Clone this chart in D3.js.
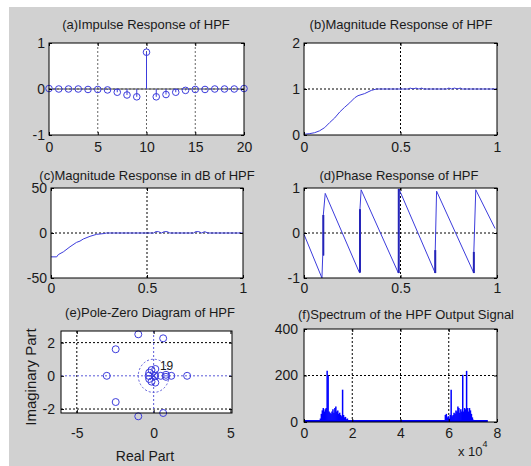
<!DOCTYPE html>
<html>
<head>
<meta charset="utf-8">
<script src="https://cdn.jsdelivr.net/npm/d3@7/dist/d3.min.js"></script>
<style>
  body { margin: 0; background: #fff; }
  text { font-family: "Liberation Sans", Arial, sans-serif; fill: #1a1a1a; }
</style>
</head>
<body>
<div id="fig"></div>
<script>
// ---- data ----

// (a) impulse response h[n]
var impulseN = [0, 1, 2, 3, 4, 5, 6, 7, 8, 9, 10, 11, 12, 13, 14, 15, 16, 17, 18, 19, 20];
var impulseH = [0.01, 0, 0, 0, -0.01, -0.01, -0.02, -0.07, -0.13, -0.17, 0.8,
                -0.17, -0.12, -0.07, -0.03, -0.01, -0.01, 0, 0, 0, 0.01];

// (b) magnitude response (normalised frequency)
var magFreq = [0, 0.03, 0.055, 0.08, 0.107, 0.133, 0.159, 0.185, 0.21, 0.237, 0.263, 0.28, 0.314, 0.349, 0.375,
               0.54, 0.55, 0.565, 0.58, 0.595, 0.61, 0.62, 0.74, 0.75, 0.765, 0.78, 0.795, 0.81, 0.82, 1];
var magVal  = [0.015, 0.03, 0.05, 0.09, 0.16, 0.27, 0.37, 0.5, 0.6, 0.7, 0.81, 0.855, 0.9, 0.97, 1.0,
               1.0, 1.02, 1.0, 1.02, 1.0, 1.02, 1.0, 1.0, 1.02, 1.0, 1.02, 1.0, 1.02, 1.0, 1.0];

// (c) magnitude response in dB
var dbFreq = [0, 0.03, 0.038, 0.064, 0.099, 0.133, 0.151, 0.168, 0.203, 0.237, 0.272, 0.29,
              0.535, 0.545, 0.56, 0.575, 0.59, 0.605, 0.619, 0.743, 0.753, 0.77, 0.785, 0.8, 0.818, 1];
var dbVal  = [-26.5, -26.5, -24, -21, -15.3, -10.4, -9, -6.7, -3.7, -1.5, -0.7, 0,
              0, 1.5, 1.5, 0, 1.5, 1.5, 0, 0, 1.5, 1.5, 0, 1.5, 0, 0];

// (d) phase response (units of pi)
var phaseFreq = [0, 0.093, 0.097, 0.1, 0.1, 0.11, 0.287, 0.29, 0.29, 0.296, 0.489, 0.492,
                 0.68, 0.68, 0.687, 0.88, 0.88, 0.89, 0.99];
var phaseVal  = [-0.03, -1.0, -0.5, -0.5, 0.4, 0.88, -0.88, -0.88, 0.53, 0.96, -0.89, 0.98,
                 -0.89, -0.38, 0.93, -0.89, -0.42, 0.96, 0.1];
var phaseJumps = [[0.1, -0.5, 0.4], [0.29, -0.88, 0.53], [0.491, -0.89, 0.98], [0.68, -0.89, -0.38], [0.88, -0.89, -0.42]];

// (e) pole-zero diagram
var zeroRe = [-1.0, -1.0, 0.62, 0.62, -2.47, -2.47, -3.05, 2.18,
              -0.14, -0.14, 0.11, 0.11, -0.29, -0.29, -0.33, 0.46,
              0.8, 0.8, 1.15, 0.1];
var zeroIm = [2.5, -2.44, 2.26, -2.24, 1.6, -1.58, 0, 0,
              0.35, -0.35, 0.41, -0.41, 0.19, -0.19, 0, 0,
              0.06, -0.06, 0, 0];
var poleRe = [0];
var poleIm = [0];
var poleCount = "19";

// (f) spectrum of the output signal (frequency in units of 1e4)
var specStep = 0.04;
var specLeftStart = 0.64;
var specLeft = [5, 15, 35, 50, 60, 45, 55, 60, 220, 200, 45, 40, 35, 45, 55, 40,
                60, 67, 45, 50, 35, 40, 30, 25, 139, 30, 20, 22, 12, 15, 8, 5];
var specRightStart = 5.82;
var specRight = [5, 30, 35, 20, 25, 15, 30, 139, 25, 30, 40, 35, 50, 45, 67, 60,
                 40, 55, 45, 203, 45, 60, 55, 220, 60, 45, 60, 50, 35, 20, 10, 5];
var specFloorEnd = 7.62;
var specFloorVal = 4;

// ---- figure ----
var svgWidth = 531;
var svgHeight = 466;
var blue = "#3c3cdc";

var svg = d3.select("#fig")
  .append("svg")
  .attr("width", svgWidth)
  .attr("height", svgHeight);

// grey figure background
svg.append("rect")
  .attr("x", 9).attr("y", 7)
  .attr("width", svgWidth - 9).attr("height", svgHeight - 7)
  .attr("fill", "#d1d1d1");

// sets up an axes box: white plot area + grid, returns scales
function makePanel(p) {
  var x = d3.scaleLinear().domain(p.xDomain).range([p.left, p.right]);
  var y = d3.scaleLinear().domain(p.yDomain).range([p.bottom, p.top]);
  var g = svg.append("g");

  g.append("rect")
    .attr("x", p.left).attr("y", p.top)
    .attr("width", p.right - p.left).attr("height", p.bottom - p.top)
    .attr("fill", "#fff");

  (p.xGrid || []).forEach(function (v) {
    g.append("line")
      .attr("x1", x(v)).attr("x2", x(v))
      .attr("y1", p.top).attr("y2", p.bottom)
      .attr("stroke", p.gridColor || "#000")
      .attr("stroke-dasharray", "2,2");
  });
  (p.yGrid || []).forEach(function (v) {
    g.append("line")
      .attr("x1", p.left).attr("x2", p.right)
      .attr("y1", y(v)).attr("y2", y(v))
      .attr("stroke", p.gridColor || "#000")
      .attr("stroke-dasharray", "2,2");
  });

  return { g: svg.append("g"), x: x, y: y, p: p };
}

// draws box, ticks, tick labels and title on top of the data
function finishPanel(pan) {
  var p = pan.p, x = pan.x, y = pan.y;
  var g = svg.append("g").attr("font-size", 14);
  var fmt = function (d) { return String(d); };

  g.append("g")
    .attr("transform", "translate(0," + p.bottom + ")")
    .call(d3.axisBottom(x).tickValues(p.xTicks).tickSize(-3).tickPadding(p.xPad).tickFormat(fmt));
  g.append("g")
    .attr("transform", "translate(0," + p.top + ")")
    .call(d3.axisTop(x).tickValues(p.xTicks).tickSize(-3).tickFormat(""));
  g.append("g")
    .attr("transform", "translate(" + p.left + ",0)")
    .call(d3.axisLeft(y).tickValues(p.yTicks).tickSize(-3).tickPadding(p.yPad || 4).tickFormat(fmt));
  g.append("g")
    .attr("transform", "translate(" + p.right + ",0)")
    .call(d3.axisRight(y).tickValues(p.yTicks).tickSize(-3).tickFormat(""));

  g.selectAll(".domain").remove();
  g.selectAll(".tick line").attr("stroke", "#000");
  g.selectAll(".tick text")
    .attr("font-family", "Liberation Sans, Arial, sans-serif")
    .attr("font-size", 14)
    .attr("fill", "#1a1a1a");

  g.append("rect")
    .attr("x", p.left).attr("y", p.top)
    .attr("width", p.right - p.left).attr("height", p.bottom - p.top)
    .attr("fill", "none")
    .attr("stroke", "#000");

  svg.append("text")
    .attr("x", p.titleX)
    .attr("y", p.titleY)
    .attr("text-anchor", "middle")
    .attr("font-size", 13)
    .text(p.title);
}

// ---------- (a) impulse response ----------
var pa = makePanel({
  left: 49, right: 244, top: 43, bottom: 135,
  xDomain: [0, 20], yDomain: [-1, 1],
  xTicks: [0, 5, 10, 15, 20], yTicks: [-1, 0, 1],
  xGrid: [5, 10, 15], yGrid: [0], gridColor: "#666",
  xPad: 7,
  title: "(a)Impulse Response of HPF", titleX: 146, titleY: 29
});

pa.g.append("line")
  .attr("x1", pa.x(0)).attr("x2", pa.x(20))
  .attr("y1", pa.y(0)).attr("y2", pa.y(0))
  .attr("stroke", "#444");

pa.g.selectAll(".stem")
  .data(impulseN)
  .enter()
  .append("line")
  .attr("x1", d => pa.x(d)).attr("x2", d => pa.x(d))
  .attr("y1", pa.y(0))
  .attr("y2", (d, i) => pa.y(impulseH[i]))
  .attr("stroke", blue);

pa.g.selectAll(".mark")
  .data(impulseN)
  .enter()
  .append("circle")
  .attr("cx", d => pa.x(d))
  .attr("cy", (d, i) => pa.y(impulseH[i]))
  .attr("r", 3.3)
  .attr("fill", "none")
  .attr("stroke", blue);

finishPanel(pa);

// ---------- (b) magnitude response ----------
var pb = makePanel({
  left: 304, right: 497, top: 43, bottom: 135,
  xDomain: [0, 1], yDomain: [0, 2],
  xTicks: [0, 0.5, 1], yTicks: [0, 1, 2],
  xGrid: [0.5], yGrid: [1],
  xPad: 7,
  title: "(b)Magnitude Response of HPF", titleX: 401, titleY: 29
});

pb.g.append("path")
  .datum(magFreq)
  .attr("d", d3.line().x(d => pb.x(d)).y((d, i) => pb.y(magVal[i])))
  .attr("fill", "none")
  .attr("stroke", blue);

finishPanel(pb);

// ---------- (c) magnitude in dB ----------
var pc = makePanel({
  left: 51, right: 243, top: 188, bottom: 278,
  xDomain: [0, 1], yDomain: [-50, 50],
  xTicks: [0, 0.5, 1], yTicks: [-50, 0, 50],
  xGrid: [0.5], yGrid: [0],
  xPad: 5,
  title: "(c)Magnitude Response in dB of HPF", titleX: 147, titleY: 180
});

pc.g.append("path")
  .datum(dbFreq)
  .attr("d", d3.line().x(d => pc.x(d)).y((d, i) => pc.y(dbVal[i])))
  .attr("fill", "none")
  .attr("stroke", blue);

finishPanel(pc);

// ---------- (d) phase response ----------
var pd = makePanel({
  left: 304, right: 497, top: 188, bottom: 278,
  xDomain: [0, 1], yDomain: [-1, 1],
  xTicks: [0, 0.5, 1], yTicks: [-1, 0, 1],
  xGrid: [0.5], yGrid: [0],
  xPad: 5,
  title: "(d)Phase Response of HPF", titleX: 399, titleY: 180
});

pd.g.append("path")
  .datum(phaseFreq)
  .attr("d", d3.line().x(d => pd.x(d)).y((d, i) => pd.y(phaseVal[i])))
  .attr("fill", "none")
  .attr("stroke", blue);

pd.g.selectAll(".jump")
  .data(phaseJumps)
  .enter()
  .append("line")
  .attr("x1", d => pd.x(d[0])).attr("x2", d => pd.x(d[0]))
  .attr("y1", d => pd.y(d[1])).attr("y2", d => pd.y(d[2]))
  .attr("stroke", "#2424b8")
  .attr("stroke-width", 2);

finishPanel(pd);

// ---------- (e) pole-zero diagram ----------
var pe = makePanel({
  left: 61, right: 232, top: 331, bottom: 413,
  xDomain: [-6.03, 5.1], yDomain: [-2.24, 2.7],
  xTicks: [-5, 0, 5], yTicks: [-2, 0, 2],
  xGrid: [-5], yGrid: [-2, 2],
  xPad: 15, yPad: 6,
  title: "(e)Pole-Zero Diagram of HPF", titleX: 150, titleY: 317
});

// zplane reference axes and unit circle
pe.g.append("line")
  .attr("x1", pe.x(0)).attr("x2", pe.x(0))
  .attr("y1", pe.p.top).attr("y2", pe.p.bottom)
  .attr("stroke", "#5a5ad8").attr("stroke-dasharray", "2,2");
pe.g.append("line")
  .attr("x1", pe.p.left).attr("x2", pe.p.right)
  .attr("y1", pe.y(0)).attr("y2", pe.y(0))
  .attr("stroke", "#5a5ad8").attr("stroke-dasharray", "2,2");
pe.g.append("ellipse")
  .attr("cx", pe.x(0)).attr("cy", pe.y(0))
  .attr("rx", pe.x(1) - pe.x(0)).attr("ry", pe.y(0) - pe.y(1))
  .attr("fill", "none")
  .attr("stroke", "#5a5ad8").attr("stroke-dasharray", "2,2");

pe.g.selectAll(".zero")
  .data(zeroRe)
  .enter()
  .append("circle")
  .attr("cx", d => pe.x(d))
  .attr("cy", (d, i) => pe.y(zeroIm[i]))
  .attr("r", 3.5)
  .attr("fill", "none")
  .attr("stroke", blue);

pe.g.selectAll(".pole")
  .data(poleRe)
  .enter()
  .append("path")
  .attr("transform", (d, i) => "translate(" + pe.x(d) + "," + pe.y(poleIm[i]) + ")")
  .attr("d", "M-4,-4L4,4M-4,4L4,-4")
  .attr("stroke", blue)
  .attr("stroke-width", 1.5);

pe.g.append("text")
  .attr("x", pe.x(0.41))
  .attr("y", pe.y(0.36))
  .attr("font-size", 12)
  .text(poleCount);

finishPanel(pe);

svg.append("text")
  .attr("x", 145).attr("y", 461)
  .attr("text-anchor", "middle")
  .attr("font-size", 14)
  .attr("fill", "#333")
  .text("Real Part");

svg.append("text")
  .attr("transform", "translate(36,377) rotate(-90)")
  .attr("text-anchor", "middle")
  .attr("font-size", 15)
  .attr("fill", "#333")
  .text("Imaginary Part");

// ---------- (f) spectrum ----------
var pf = makePanel({
  left: 304, right: 497, top: 329, bottom: 422,
  xDomain: [0, 8], yDomain: [0, 400],
  xTicks: [0, 2, 4, 6, 8], yTicks: [0, 200, 400],
  xGrid: [2, 4, 6], yGrid: [200],
  xPad: 6, yPad: 6,
  title: "(f)Spectrum of the HPF Output Signal", titleX: 406, titleY: 319
});

pf.g.append("line")
  .attr("x1", pf.x(0)).attr("x2", pf.x(specFloorEnd))
  .attr("y1", pf.y(specFloorVal)).attr("y2", pf.y(specFloorVal))
  .attr("stroke", "#0000ff")
  .attr("stroke-width", 2);

pf.g.selectAll(".specL")
  .data(specLeft)
  .enter()
  .append("line")
  .attr("x1", (d, i) => pf.x(specLeftStart + i * specStep))
  .attr("x2", (d, i) => pf.x(specLeftStart + i * specStep))
  .attr("y1", pf.y(0))
  .attr("y2", d => pf.y(d))
  .attr("stroke", "#0000ff")
  .attr("stroke-width", 1.5);

pf.g.selectAll(".specR")
  .data(specRight)
  .enter()
  .append("line")
  .attr("x1", (d, i) => pf.x(specRightStart + i * specStep))
  .attr("x2", (d, i) => pf.x(specRightStart + i * specStep))
  .attr("y1", pf.y(0))
  .attr("y2", d => pf.y(d))
  .attr("stroke", "#0000ff")
  .attr("stroke-width", 1.5);

finishPanel(pf);

// x 10^4 exponent label
var expo = svg.append("text")
  .attr("x", 458).attr("y", 456)
  .attr("font-size", 13)
  .text("x 10");
expo.append("tspan")
  .attr("dy", -9)
  .attr("font-size", 9)
  .text("4");
</script>
</body>
</html>
